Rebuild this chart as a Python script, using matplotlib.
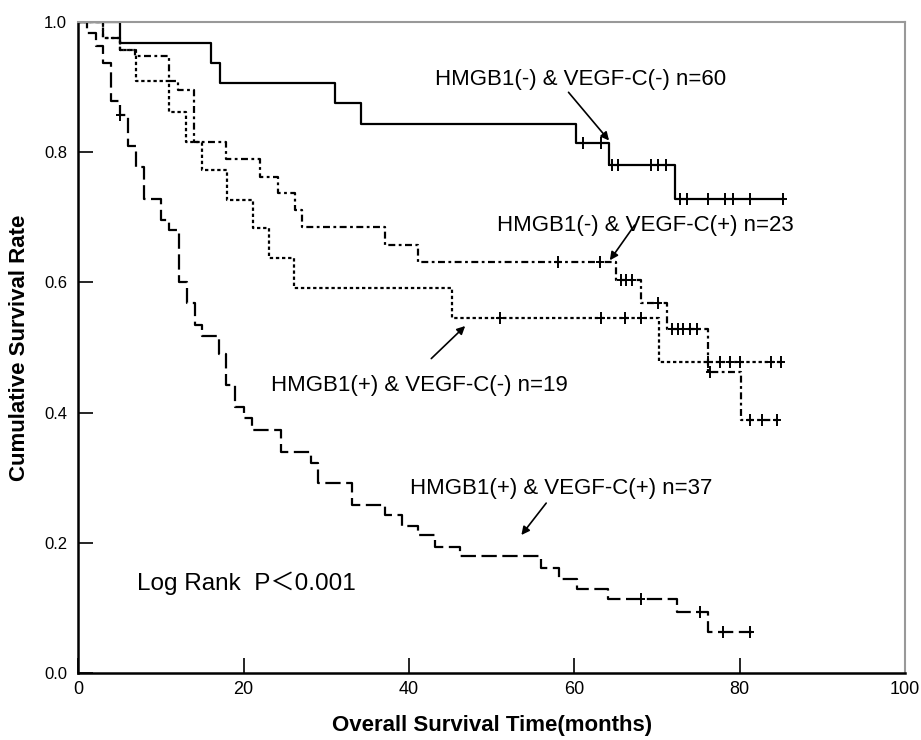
import matplotlib
matplotlib.use("AGG")
import matplotlib.pyplot as plt
import numpy as np

plt.rcParams['font.family'] = ['Liberation Sans', 'Noto Sans CJK SC', 'DejaVu Sans']
plt.rcParams['lines.scale_dashes'] = False

# HMGB1(-) & VEGF-C(-) n=60  (solid)
t_nn = [0, 5.1, 16.0, 17.1, 31.1, 34.2, 60.2, 64.2, 72.2, 85.2]
s_nn = [1.0, 0.967, 0.937, 0.907, 0.875, 0.843, 0.814, 0.780, 0.728, 0.728]
c_nn = [61.1, 63.2, 64.6, 65.3, 69.3, 70.1, 71.1, 72.8, 73.6, 76.2, 78.2, 79.2, 81.2, 85.2]

# HMGB1(-) & VEGF-C(+) n=23  (dash-dot)
t_np = [0, 3.0, 5.1, 6.9, 11.0, 12.1, 14.0, 17.9, 22.0, 24.1, 26.2, 27.1, 37.1, 41.1,
        65.1, 68.1, 71.2, 76.2, 80.2, 84.7]
s_np = [1.0, 0.975, 0.957, 0.947, 0.910, 0.896, 0.816, 0.789, 0.762, 0.737, 0.711, 0.685, 0.657, 0.632,
        0.603, 0.568, 0.529, 0.463, 0.388, 0.388]
c_np = [58.0, 63.1, 65.6, 66.3, 67.0, 70.1, 71.8, 72.5, 73.2, 74.0, 74.8, 76.4, 81.3, 82.7, 84.5]

# HMGB1(+) & VEGF-C(-) n=19  (short dash)
t_pn = [0, 3.0, 5.1, 7.0, 11.0, 13.0, 15.0, 18.0, 21.1, 23.1, 26.1, 45.2, 70.2, 85.2]
s_pn = [1.0, 0.975, 0.957, 0.910, 0.861, 0.816, 0.773, 0.727, 0.683, 0.637, 0.591, 0.545, 0.478, 0.478]
c_pn = [51.0, 63.2, 66.1, 68.1, 76.2, 77.6, 78.8, 80.0, 83.8, 85.0]

# HMGB1(+) & VEGF-C(+) n=37  (long dash)
t_pp = [0, 1.1, 2.1, 3.0, 4.0, 5.0, 6.0, 7.0, 8.0, 10.0, 11.0, 12.2, 13.2, 14.1, 15.0, 17.05, 17.9,
        19.0, 20.0, 21.0, 24.5, 28.2, 29.0, 33.1, 37.1, 39.1, 41.1, 43.1, 46.2, 56.0, 58.2, 60.3,
        64.1, 72.4, 76.2, 81.5]
s_pp = [1.0, 0.983, 0.963, 0.937, 0.878, 0.857, 0.810, 0.778, 0.728, 0.696, 0.680, 0.601, 0.568, 0.535,
        0.517, 0.490, 0.442, 0.409, 0.391, 0.373, 0.340, 0.323, 0.292, 0.258, 0.243, 0.226, 0.212,
        0.194, 0.179, 0.161, 0.145, 0.129, 0.113, 0.094, 0.0625, 0.0625]
c_pp = [5.0, 68.1, 75.2, 78.0, 81.2]

x_ticks = [0, 20, 40, 60, 80, 100]
y_ticks = [0.0, 0.2, 0.4, 0.6, 0.8, 1.0]


def step_value(t, s, x):
    # KM curve value at time x (post-step)
    i = np.searchsorted(t, x, side='right') - 1
    return s[i]


fig = plt.figure(figsize=(9.21, 7.40), dpi=100)
ax = fig.add_axes([0.085, 0.0905, 0.8976, 0.8798])

curves = [
    (t_nn, s_nn, c_nn, None),
    (t_np, s_np, c_np, (5.0, 2.5, 2.0, 2.5)),
    (t_pn, s_pn, c_pn, (2.4, 2.0)),
    (t_pp, s_pp, c_pp, (11.0, 4.0)),
]
for t, s, c, dash in curves:
    line, = ax.step(t, s, where='post', color='black', lw=1.6)
    if dash is not None:
        line.set_dashes(dash)
    cy = [step_value(t, s, x) for x in c]
    ax.plot(c, cy, ls='none', marker='|', ms=8, mew=1.4, color='black')
    ax.plot(c, cy, ls='none', marker='_', ms=6, mew=1.4, color='black')

ax.set_xlim(0, 100)
ax.set_ylim(0, 1.0)
ax.set_xticks(x_ticks)
ax.set_yticks(y_ticks)
ax.set_yticklabels(["%.1f" % v for v in y_ticks])
ax.tick_params(direction='in', length=11, width=1.2, colors='black')
ax.tick_params(axis='x', pad=6, labelsize=13)
ax.tick_params(axis='y', pad=8, labelsize=12)
for lab in ax.get_xticklabels() + ax.get_yticklabels():
    lab.set_family(['Liberation Sans Narrow', 'Liberation Sans'])

ax.spines['left'].set_linewidth(1.8)
ax.spines['bottom'].set_linewidth(1.8)
ax.spines['top'].set_color('#999999')
ax.spines['right'].set_color('#999999')
ax.spines['top'].set_linewidth(1.5)
ax.spines['right'].set_linewidth(1.5)

ax.set_xlabel("Overall Survival Time(months)", fontsize=16, fontweight='bold', labelpad=12,
              family=['Liberation Sans Narrow', 'Liberation Sans'])
ax.set_ylabel("Cumulative Survival Rate", fontsize=16, fontweight='bold', labelpad=10,
              family=['Liberation Sans Narrow', 'Liberation Sans'])

fs = 16
ax.text(43.1, 0.911, "HMGB1(-) & VEGF-C(-) n=60", fontsize=fs, va='center')
ax.text(50.6, 0.688, "HMGB1(-) & VEGF-C(+) n=23", fontsize=fs, va='center')
ax.text(23.3, 0.442, "HMGB1(+) & VEGF-C(-) n=19", fontsize=fs, va='center')
ax.text(40.1, 0.284, "HMGB1(+) & VEGF-C(+) n=37", fontsize=fs, va='center')
ax.text(7.1, 0.138, "Log Rank  P＜0.001", fontsize=17.5, va='center')

arrows = [
    ((59.3, 0.892), (64.2, 0.818)),
    ((67.3, 0.688), (64.3, 0.634)),
    ((42.7, 0.483), (46.8, 0.533)),
    ((56.6, 0.261), (53.6, 0.212)),
]
for tail, head in arrows:
    ax.annotate('', xy=head, xytext=tail,
                arrowprops=dict(arrowstyle='-|>', color='black', lw=1.2,
                                mutation_scale=12, shrinkA=0, shrinkB=0))

fig.savefig("out.png", dpi=100)
